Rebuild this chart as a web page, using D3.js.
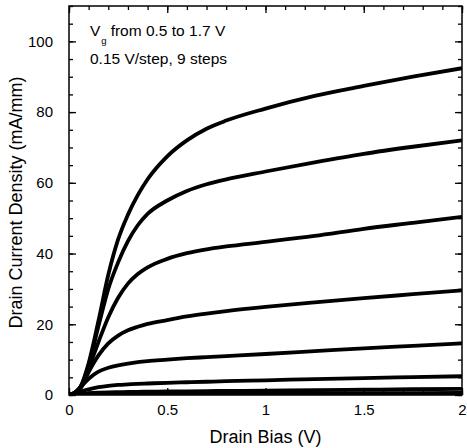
<!DOCTYPE html>
<html><head><meta charset="utf-8">
<script src="https://cdn.jsdelivr.net/npm/d3@7"></script>
<style>body{margin:0;background:#fff}svg text{font-family:"Liberation Sans",Arial,sans-serif;fill:#000}</style>
</head><body><svg id="c" width="467" height="448"></svg>
<script>
const vd = [0,0.03,0.06,0.1,0.15,0.2,0.25,0.3,0.35,0.4,0.5,0.6,0.7,0.8,1.0,1.25,1.5,1.75,2.0];
const id1 = [0,0.7,2.5,9,21,34,44,51,56.5,61,67.5,72,75.3,77.6,81,84.6,87.4,90,92.4];
const id2 = [0,0.7,2.4,8.5,19.5,30,37.5,43.5,48,51.2,55,57.7,59.6,61,63.2,65.8,68.2,70.2,72];
const id3 = [0,0.6,2.2,7.5,15,22,27.5,31.5,34.2,36.1,38.5,40.1,41.2,42,43.3,45,47,48.7,50.4];
const id4 = [0,0.5,2.0,6.5,11.2,14.6,16.8,18.3,19.3,20.1,21.2,22.2,23,23.7,24.9,26.2,27.4,28.5,29.6];
const id5 = [0,0.6,2.3,4.6,6.6,7.7,8.4,8.9,9.3,9.6,10.0,10.4,10.7,11.0,11.6,12.4,13.2,13.9,14.6];
const id6 = [0,0.4,1.0,1.6,2.2,2.6,2.85,3.0,3.15,3.25,3.45,3.6,3.75,3.9,4.15,4.5,4.8,5.05,5.3];
const id7 = [0,0.15,0.3,0.5,0.65,0.75,0.8,0.85,0.9,0.93,1.0,1.05,1.1,1.15,1.25,1.38,1.5,1.62,1.75];
const id8 = [0,0.05,0.1,0.15,0.2,0.22,0.24,0.26,0.28,0.3,0.32,0.34,0.36,0.38,0.42,0.46,0.5,0.54,0.58];
const id9 = [0,0.01,0.02,0.03,0.04,0.04,0.05,0.05,0.05,0.06,0.06,0.06,0.07,0.07,0.07,0.08,0.08,0.09,0.1];
const series = [id1,id2,id3,id4,id5,id6,id7,id8,id9];
const xMajor = [0,0.5,1,1.5,2];
const xMajorLabels = ["0","0.5","1","1.5","2"];
const yMajor = [0,20,40,60,80,100];
const xTitle = "Drain Bias (V)";
const yTitle = "Drain Current Density (mA/mm)";
const legend1a = "V", legend1sub = "g", legend1b = "from 0.5 to 1.7 V";
const legend2 = "0.15 V/step, 9 steps";

const svg = d3.select("#c");
const m = {l:69,t:6,r:5,b:53};
const W = 467-m.l-m.r, H = 448-m.t-m.b;
const x = d3.scaleLinear().domain([0,2]).range([0,W]);
const y = d3.scaleLinear().domain([0,110]).range([H,0]);
const g = svg.append("g").attr("transform",`translate(${m.l},${m.t})`);

svg.append("defs").append("clipPath").attr("id","clip").append("rect").attr("width",W).attr("height",H);

const xMinor = d3.range(0,2.0001,0.1);
const yMinor = d3.range(0,110.001,5);
function styleAxis(a){a.select(".domain").remove();a.selectAll("line").attr("stroke","#000").attr("stroke-width",1.3);}
// bottom
g.append("g").attr("transform",`translate(0,${H})`).call(d3.axisBottom(x).tickValues(xMinor).tickSize(-4).tickFormat("")).call(styleAxis);
g.append("g").attr("transform",`translate(0,${H})`).call(d3.axisBottom(x).tickValues(xMajor).tickSize(-7).tickPadding(9).tickFormat((d,i)=>xMajorLabels[i])).call(styleAxis)
  .selectAll("text").attr("font-size",15);
// top
g.append("g").call(d3.axisTop(x).tickValues(xMinor).tickSize(-4).tickFormat("")).call(styleAxis);
g.append("g").call(d3.axisTop(x).tickValues(xMajor).tickSize(-7).tickFormat("")).call(styleAxis);
// left
g.append("g").call(d3.axisLeft(y).tickValues(yMinor).tickSize(-4).tickFormat("")).call(styleAxis);
g.append("g").call(d3.axisLeft(y).tickValues(yMajor).tickSize(-7).tickPadding(16).tickFormat(d3.format("d"))).call(styleAxis)
  .selectAll("text").attr("font-size",15);
// right
g.append("g").attr("transform",`translate(${W},0)`).call(d3.axisRight(y).tickValues(yMinor).tickSize(-4).tickFormat("")).call(styleAxis);
g.append("g").attr("transform",`translate(${W},0)`).call(d3.axisRight(y).tickValues(yMajor).tickSize(-7).tickFormat("")).call(styleAxis);

// curves
const line = d3.line().x((d,i)=>x(vd[i])).y(d=>y(d)).curve(d3.curveMonotoneX);
g.append("g").attr("clip-path","url(#clip)").selectAll("path").data(series).join("path")
  .attr("d",line).attr("fill","none").attr("stroke","#000").attr("stroke-width",3.8).attr("stroke-linejoin","round");

g.append("rect").attr("width",W).attr("height",H).attr("fill","none").attr("stroke","#000").attr("stroke-width",1.5);

// titles
svg.append("text").attr("x",m.l+W/2).attr("y",443).attr("text-anchor","middle").attr("font-size",18).text(xTitle);
svg.append("text").attr("transform",`translate(22,${m.t+H/2+2}) rotate(-90)`).attr("text-anchor","middle").attr("font-size",18).text(yTitle);

// legend
const t1 = svg.append("text").attr("x",90).attr("y",36).attr("font-size",15.5);
t1.append("tspan").text(legend1a);
t1.append("tspan").attr("dy",8).attr("dx",1).attr("font-size",9.5).text(legend1sub);
t1.append("tspan").attr("dy",-8).attr("dx",4).text(legend1b);
svg.append("text").attr("x",90).attr("y",64).attr("font-size",15.5).text(legend2);
</script></body></html>
